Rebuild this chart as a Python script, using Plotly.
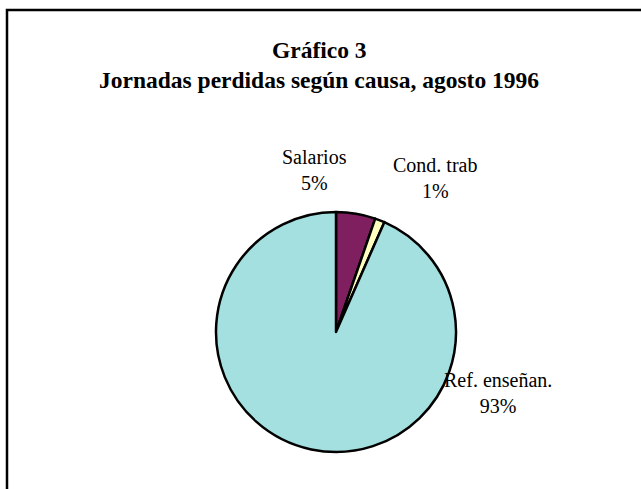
import plotly.graph_objects as go

categories = ["Salarios", "Cond. trab", "Ref. enseñan."]
values = [5.3, 1.3, 93.4]
colors = ["#7F1F5F", "#FFFFC0", "#A4E0E0"]
title_lines = ["Gráfico 3", "Jornadas perdidas según causa, agosto 1996"]

W, H = 641, 489
total = sum(values)
pct = [f"{v / total * 100:.0f}%" for v in values]

fig = go.Figure(go.Pie(
    labels=categories,
    values=values,
    sort=False,
    direction="clockwise",
    rotation=0,
    marker=dict(colors=colors, line=dict(color="black", width=2.5)),
    textinfo="none",
    hoverinfo="label+percent",
    showlegend=False,
    domain=dict(x=[216 / W, 456 / W], y=[37 / H, 277 / H]),
))

# label positions (pixels, centre of text block)
label_pos = [(314, 170), (435, 178), (498, 393)]
for name, p, (px, py) in zip(categories, pct, label_pos):
    fig.add_annotation(
        x=px / W, y=1 - py / H, xref="paper", yref="paper",
        text=f"{name}<br>{p}", showarrow=False,
        xanchor="center", yanchor="middle",
        font=dict(family="Liberation Serif", size=20, color="black"),
    )

fig.add_annotation(
    x=319 / W, y=1 - 50 / H, xref="paper", yref="paper",
    text=f"<b>{title_lines[0]}</b>", showarrow=False,
    xanchor="center", yanchor="middle",
    font=dict(family="Liberation Serif", size=23.5, color="black"),
)
fig.add_annotation(
    x=319 / W, y=1 - 80 / H, xref="paper", yref="paper",
    text=f"<b>{title_lines[1]}</b>", showarrow=False,
    xanchor="center", yanchor="middle",
    font=dict(family="Liberation Serif", size=23.5, color="black"),
)

fig.add_shape(
    type="rect", xref="paper", yref="paper",
    x0=7 / W, x1=700 / W, y0=1 - 10 / H, y1=-0.2,
    line=dict(color="black", width=2.5), fillcolor="rgba(0,0,0,0)",
)

fig.update_layout(
    width=W, height=H,
    margin=dict(l=0, r=0, t=0, b=0),
    paper_bgcolor="white",
    plot_bgcolor="white",
)

fig.write_html(
    "out.html",
    config={"displayModeBar": False},
    post_script="document.body.style.margin='0';document.body.style.overflow='hidden';",
)
